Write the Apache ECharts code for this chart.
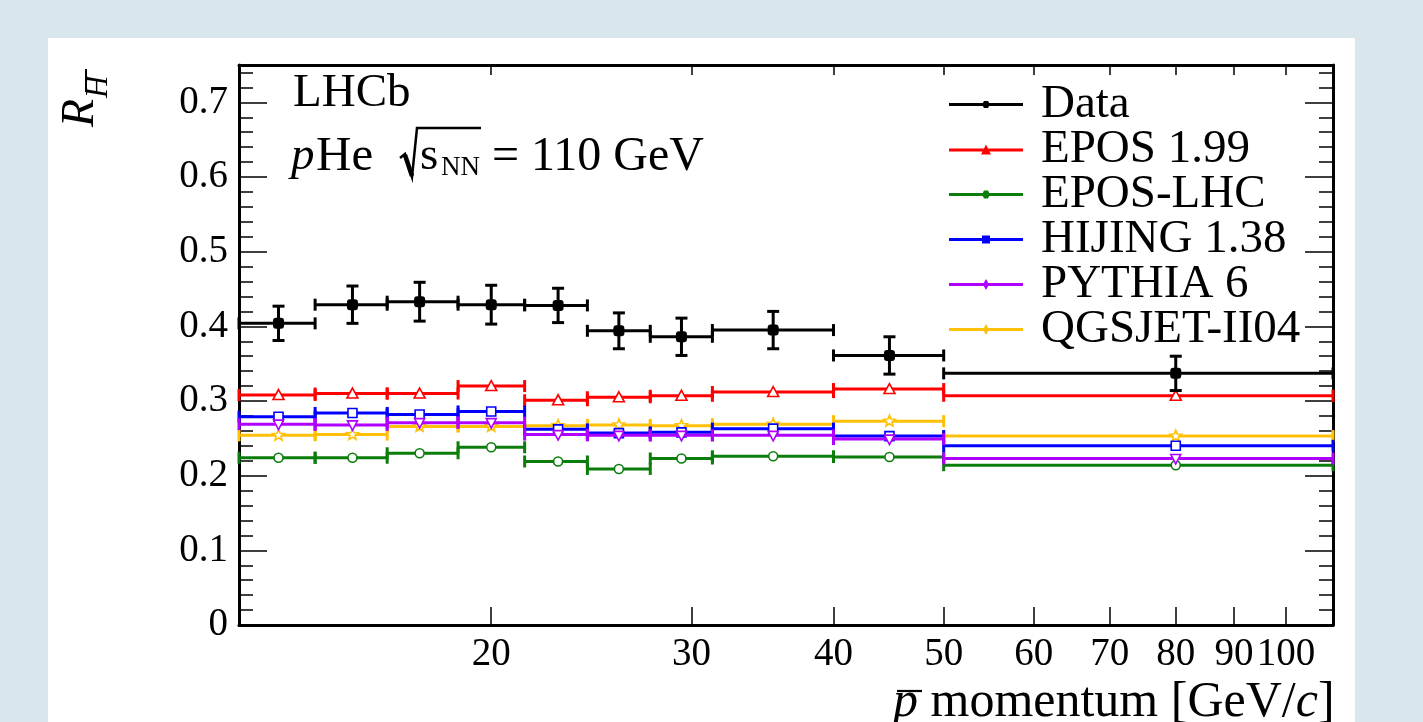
<!DOCTYPE html>
<html>
<head>
<meta charset="utf-8">
<script src="https://cdn.jsdelivr.net/npm/echarts@6/dist/echarts.min.js"></script>
<style>
html, body { margin: 0; padding: 0; background: #d9e6ec; }
#card { position: absolute; left: 48px; top: 38px; width: 1307px; height: 684px; background: #fff; }
#main { position: absolute; left: 0; top: 0; width: 1423px; height: 722px; }
</style>
</head>
<body>
<div id="card"></div>
<div id="main"></div>
<script type="text/javascript">

// momentum bins [GeV/c] and mean momentum of each bin
var binEdges = [12, 14, 16.2, 18.7, 21.4, 24.3, 27.6, 31.3, 40, 50, 110];
var meanP = [13.0, 15.1, 17.3, 20.0, 22.9, 25.9, 29.4, 35.4, 44.8, 80];

// measured ratio and its uncertainty
var dataR = [0.404, 0.429, 0.433, 0.429, 0.428, 0.394, 0.386, 0.395, 0.361, 0.337];
var dataErr = [0.023, 0.025, 0.026, 0.026, 0.023, 0.024, 0.025, 0.025, 0.025, 0.023];

// generator predictions
var epos199 = [0.308, 0.310, 0.310, 0.320, 0.301, 0.305, 0.307, 0.312, 0.316, 0.307];
var eposLHC = [0.224, 0.224, 0.230, 0.238, 0.219, 0.209, 0.223, 0.226, 0.225, 0.214];
var hijing = [0.279, 0.284, 0.282, 0.286, 0.262, 0.257, 0.258, 0.263, 0.253, 0.240];
var pythia = [0.269, 0.268, 0.271, 0.271, 0.255, 0.254, 0.254, 0.254, 0.249, 0.223];
var qgsjet = [0.254, 0.255, 0.266, 0.266, 0.267, 0.268, 0.267, 0.269, 0.273, 0.253];

var xTicks = [20, 30, 40, 50, 60, 70, 80, 90, 100];
var yTicks = [0, 0.1, 0.2, 0.3, 0.4, 0.5, 0.6, 0.7];

var FONT = 'Liberation Serif';
var lg = Math.log10;

function marker(kind, x, y, color) {
    var st = { stroke: color, fill: '#fff', lineWidth: 1.6 };
    if (kind === 'circle') return { type: 'circle', shape: { cx: x, cy: y, r: 4.5 }, style: st };
    if (kind === 'square') return { type: 'rect', shape: { x: x - 4.5, y: y - 4.5, width: 9, height: 9 }, style: st };
    if (kind === 'triUp') return { type: 'polygon', shape: { points: [[x, y - 5.5], [x + 5.5, y + 4.5], [x - 5.5, y + 4.5]] }, style: st };
    if (kind === 'triDown') return { type: 'polygon', shape: { points: [[x, y + 5.5], [x + 5, y - 4], [x - 5, y - 4]] }, style: st };
    if (kind === 'star') {
        var pts = [];
        for (var k = 0; k < 10; k++) {
            var a = -Math.PI / 2 + k * Math.PI / 5, rr = k % 2 ? 2.6 : 6;
            pts.push([x + rr * Math.cos(a), y + rr * Math.sin(a)]);
        }
        return { type: 'polygon', shape: { points: pts }, style: st };
    }
    return { type: 'rect', shape: { x: x - 5.5, y: y - 5.5, width: 11, height: 11, r: 3 }, style: { fill: color } };
}

function binSeries(name, values, color, kind, errs) {
    var rows = values.map(function (v, i) {
        var row = [lg(binEdges[i]), lg(binEdges[i + 1]), lg(meanP[i]), v];
        if (errs) row.push(errs[i]);
        return row;
    });
    return {
        name: name,
        type: 'custom',
        itemStyle: { color: color },
        data: rows,
        encode: { x: [0, 1, 2], y: 3 },
        renderItem: function (params, api) {
            var v = api.value(3);
            var l = api.coord([api.value(0), v]);
            var r = api.coord([api.value(1), v]);
            var m = api.coord([api.value(2), v]);
            var ls = { stroke: color, lineWidth: 3 };
            var kids = [
                { type: 'line', shape: { x1: l[0], y1: l[1], x2: r[0], y2: r[1] }, style: ls },
                { type: 'line', shape: { x1: l[0], y1: l[1] - 6, x2: l[0], y2: l[1] + 6 }, style: ls },
                { type: 'line', shape: { x1: r[0], y1: r[1] - 6, x2: r[0], y2: r[1] + 6 }, style: ls }
            ];
            if (errs) {
                var e = api.value(4);
                var hi = api.coord([api.value(2), v + e]);
                var lo = api.coord([api.value(2), v - e]);
                kids.push({ type: 'line', shape: { x1: hi[0], y1: hi[1], x2: lo[0], y2: lo[1] }, style: ls });
                kids.push({ type: 'line', shape: { x1: hi[0] - 6, y1: hi[1], x2: hi[0] + 6, y2: hi[1] }, style: ls });
                kids.push({ type: 'line', shape: { x1: lo[0] - 6, y1: lo[1], x2: lo[0] + 6, y2: lo[1] }, style: ls });
            }
            kids.push(marker(kind, m[0], m[1], color));
            return { type: 'group', children: kids };
        }
    };
}

// legend icons: a line with the marker in its middle
function icon(shape) {
    return 'path://M0,6 L74,6 L74,9 L0,9 Z ' + shape;
}
var icons = {
    'Data': icon('M33,7.5 L35,4 L39,4 L41,7.5 L39,11 L35,11 Z'),
    'EPOS 1.99': icon('M37,2 L42,12 L32,12 Z'),
    'EPOS-LHC': icon('M33,7.5 L35,3.5 L39,3.5 L41,7.5 L39,11.5 L35,11.5 Z'),
    'HIJING 1.38': icon('M33,3.5 L41,3.5 L41,11.5 L33,11.5 Z'),
    'PYTHIA 6': icon('M37,2 L40,7.5 L37,13 L34,7.5 Z'),
    'QGSJET-II04': icon('M37,2 L40,7.5 L37,13 L34,7.5 Z')
};

var series = [
    binSeries('EPOS 1.99', epos199, '#ff0000', 'triUp'),
    binSeries('EPOS-LHC', eposLHC, '#0b7d0b', 'circle'),
    binSeries('QGSJET-II04', qgsjet, '#ffc107', 'star'),
    binSeries('HIJING 1.38', hijing, '#0000ff', 'square'),
    binSeries('PYTHIA 6', pythia, '#b000ff', 'triDown'),
    binSeries('Data', dataR, '#000000', 'dot', dataErr)
];

var legendNames = ['Data', 'EPOS 1.99', 'EPOS-LHC', 'HIJING 1.38', 'PYTHIA 6', 'QGSJET-II04'];

var axisLine = { show: true, onZero: false, lineStyle: { color: '#000', width: 3 } };
var xMin = lg(12), xMax = lg(110);
var xCustom = xTicks.map(lg);

var option = {
    animation: false,
    backgroundColor: 'transparent',
    grid: { left: 239, right: 90, top: 65, bottom: 97 },
    legend: {
        orient: 'vertical',
        left: 944,
        top: 76,
        itemWidth: 74,
        itemHeight: 15,
        itemGap: -2,
        selectedMode: false,
        textStyle: { fontFamily: FONT, fontSize: 47, color: '#000', lineHeight: 43, padding: [0, 0, 0, 13] },
        data: legendNames.map(function (n) { return { name: n, icon: icons[n] }; })
    },
    xAxis: [{
        type: 'value', position: 'bottom', min: xMin, max: xMax,
        axisLine: axisLine,
        splitLine: { show: false },
        axisTick: { inside: true, length: 18, customValues: xCustom, lineStyle: { color: '#000', width: 1.5 } },
        axisLabel: {
            customValues: xCustom, margin: 10,
            fontFamily: FONT, fontSize: 39, color: '#000',
            formatter: function (v) { return Math.round(Math.pow(10, v)); }
        }
    }, {
        type: 'value', position: 'top', min: xMin, max: xMax,
        axisLine: axisLine,
        splitLine: { show: false },
        axisTick: { inside: true, length: 10, customValues: xCustom, lineStyle: { color: '#000', width: 1.5 } },
        axisLabel: { show: false }
    }],
    yAxis: [{
        type: 'value', position: 'left', min: 0, max: 0.75, interval: 0.1,
        axisLine: axisLine,
        splitLine: { show: false },
        axisTick: { inside: true, length: 28, customValues: yTicks, lineStyle: { color: '#000', width: 1.5 } },
        axisLabel: { customValues: yTicks, margin: 11, fontFamily: FONT, fontSize: 39, color: '#000' }
    }, {
        type: 'value', position: 'left', min: 0, max: 0.75, interval: 0.02,
        axisLine: { show: false },
        splitLine: { show: false },
        axisTick: { inside: true, length: 14, lineStyle: { color: '#000', width: 1.5 } },
        axisLabel: { show: false }
    }, {
        type: 'value', position: 'right', min: 0, max: 0.75, interval: 0.1,
        axisLine: axisLine,
        splitLine: { show: false },
        axisTick: { inside: true, length: 28, customValues: yTicks, lineStyle: { color: '#000', width: 1.5 } },
        axisLabel: { show: false }
    }, {
        type: 'value', position: 'right', min: 0, max: 0.75, interval: 0.02,
        axisLine: { show: false },
        splitLine: { show: false },
        axisTick: { inside: true, length: 14, lineStyle: { color: '#000', width: 1.5 } },
        axisLabel: { show: false }
    }],
    graphic: [
        // y axis title R with overlined H subscript
        {
            type: 'group', x: 104, y: 127, rotation: Math.PI / 2,
            children: [
                { type: 'text', x: 0, y: 0, style: { text: 'R', font: 'italic 46px "Liberation Serif"', fill: '#000', verticalAlign: 'bottom' } },
                { type: 'text', x: 29, y: 10, style: { text: 'H', font: 'italic 31px "Liberation Serif"', fill: '#000', verticalAlign: 'bottom' } },
                { type: 'line', shape: { x1: 35, y1: -18, x2: 58, y2: -18 }, style: { stroke: '#000', lineWidth: 2 } }
            ]
        },
        { type: 'text', x: 293, y: 94, style: { text: 'LHCb', font: '47px "Liberation Serif"', fill: '#000', verticalAlign: 'middle' } },
        { type: 'text', x: 291, y: 157, style: { text: 'p', font: 'italic 47px "Liberation Serif"', fill: '#000', verticalAlign: 'middle' } },
        { type: 'text', x: 316, y: 157, style: { text: 'He', font: '49px "Liberation Serif"', fill: '#000', verticalAlign: 'middle' } },
        // radical sign and its bar
        { type: 'polyline', shape: { points: [[400, 158], [405, 154], [412, 177], [417, 128], [481, 128]] }, style: { stroke: '#000', lineWidth: 2.5, fill: null } },
        { type: 'line', shape: { x1: 405, y1: 155, x2: 412, y2: 176 }, style: { stroke: '#000', lineWidth: 4.5 } },
        { type: 'text', x: 420, y: 157, style: { text: 's', font: '47px "Liberation Serif"', fill: '#000', verticalAlign: 'middle' } },
        { type: 'text', x: 441, y: 168, style: { text: 'NN', font: '27px "Liberation Serif"', fill: '#000', verticalAlign: 'middle' } },
        { type: 'text', x: 492, y: 157, style: { text: '= 110 GeV', font: '48px "Liberation Serif"', fill: '#000', verticalAlign: 'middle' } },
        // x axis title
        {
            type: 'text', x: 893, y: 703,
            style: {
                text: '{i|p} momentum [GeV/{i|c}]',
                font: '50px "Liberation Serif"', fill: '#000', verticalAlign: 'middle',
                rich: { i: { fontFamily: FONT, fontSize: 50, fontStyle: 'italic', fill: '#000' } }
            }
        },
        { type: 'line', shape: { x1: 897, y1: 691, x2: 922, y2: 691 }, style: { stroke: '#000', lineWidth: 2.2 } }
    ],
    series: series
};

var chart = echarts.init(document.getElementById('main'));
chart.setOption(option);
</script>
</body>
</html>
